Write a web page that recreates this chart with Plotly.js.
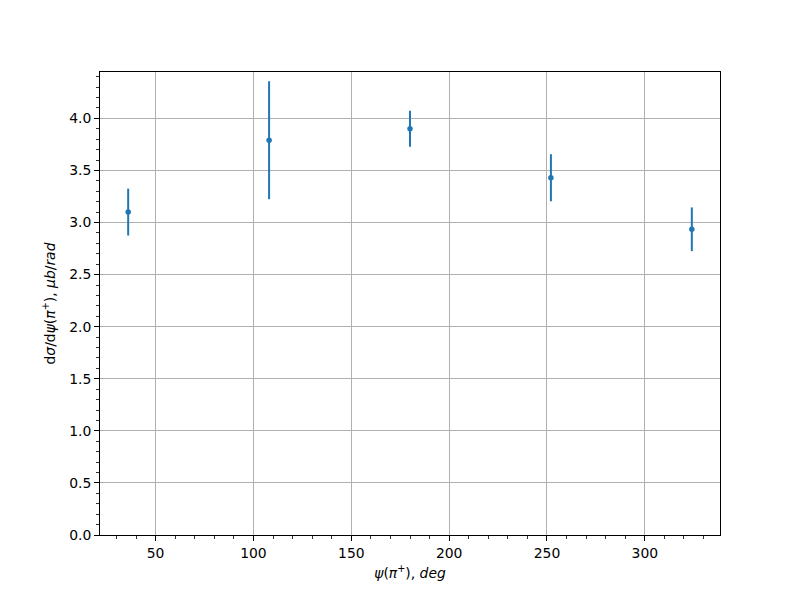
<!DOCTYPE html>
<html>
<head>
<meta charset="utf-8">
<script src="https://cdn.plot.ly/plotly-3.0.1.min.js"></script>
<style>html,body{margin:0;padding:0;background:#fff;}#chart{width:800px;height:600px;}</style>
</head>
<body>
<div id="chart"></div>
<script>
const psiDeg = [36, 108, 180, 252, 324];
const dsigma = [3.10, 3.79, 3.90, 3.43, 2.935];
const dsigmaErr = [0.225, 0.566, 0.172, 0.226, 0.21];

const trace = {
  x: psiDeg,
  y: dsigma,
  type: 'scatter',
  mode: 'markers',
  marker: {color: '#1f77b4', size: 5.5},
  error_y: {type: 'data', array: dsigmaErr, visible: true, color: '#1f77b4', thickness: 2, width: 0},
  showlegend: false
};

const font = {family: 'DejaVu Sans', size: 13.9, color: '#000'};

const layout = {
  width: 800, height: 600,
  margin: {l: 100, r: 80, t: 72, b: 65},
  paper_bgcolor: '#fff', plot_bgcolor: '#fff',
  font: font,
  xaxis: {
    range: [21.6, 338.4],
    tickvals: [50, 100, 150, 200, 250, 300],
    ticks: 'outside', ticklen: 5, tickwidth: 1, tickcolor: '#000',
    minor: {dtick: 10, tick0: 0, ticks: 'outside', ticklen: 3, tickwidth: 0.8, tickcolor: '#000', showgrid: false},
    showgrid: true, gridcolor: '#b0b0b0', gridwidth: 1,
    showline: true, linecolor: '#000', linewidth: 1, mirror: true,
    zeroline: false,
    title: {text: '<i>ψ</i>(<i>π</i><sup>+</sup>), <i>deg</i>', font: font, standoff: 8}
  },
  yaxis: {
    range: [0, 4.445],
    tickvals: [0, 0.5, 1, 1.5, 2, 2.5, 3, 3.5, 4],
    ticktext: ['0.0', '0.5', '1.0', '1.5', '2.0', '2.5', '3.0', '3.5', '4.0'],
    ticks: 'outside', ticklen: 5, tickwidth: 1, tickcolor: '#000',
    minor: {dtick: 0.1, tick0: 0, ticks: 'outside', ticklen: 3, tickwidth: 0.8, tickcolor: '#000', showgrid: false},
    showgrid: true, gridcolor: '#b0b0b0', gridwidth: 1,
    showline: true, linecolor: '#000', linewidth: 1, mirror: true,
    zeroline: false,
    title: {text: 'd<i>σ</i>/d<i>ψ</i>(<i>π</i><sup>+</sup>), <i>μb</i>/<i>rad</i>', font: font, standoff: 10}
  }
};

Plotly.newPlot('chart', [trace], layout, {displayModeBar: false, staticPlot: true});
</script>
</body>
</html>
